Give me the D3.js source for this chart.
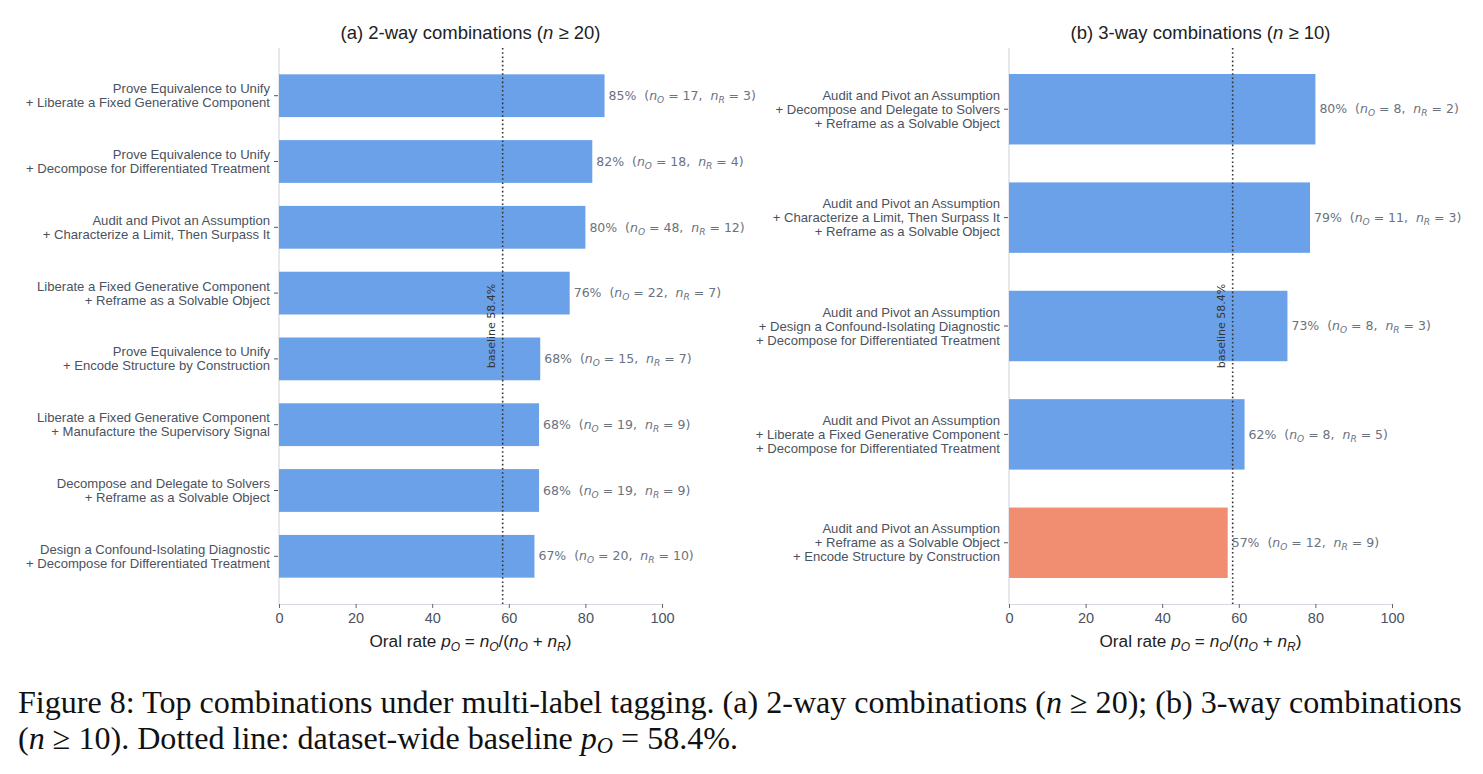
<!DOCTYPE html>
<html><head><meta charset="utf-8">
<script src="https://cdn.jsdelivr.net/npm/d3@7"></script>
<style>
body{margin:0;background:#fff;}
svg{display:block;}
text{white-space:pre;}
</style></head>
<body>
<svg id="chart" width="1483" height="774"></svg>
<script>
// ---------- DATA ----------
const labelsA = [
  ["Prove Equivalence to Unify", "+ Liberate a Fixed Generative Component"],
  ["Prove Equivalence to Unify", "+ Decompose for Differentiated Treatment"],
  ["Audit and Pivot an Assumption", "+ Characterize a Limit, Then Surpass It"],
  ["Liberate a Fixed Generative Component", "+ Reframe as a Solvable Object"],
  ["Prove Equivalence to Unify", "+ Encode Structure by Construction"],
  ["Liberate a Fixed Generative Component", "+ Manufacture the Supervisory Signal"],
  ["Decompose and Delegate to Solvers", "+ Reframe as a Solvable Object"],
  ["Design a Confound-Isolating Diagnostic", "+ Decompose for Differentiated Treatment"]
];
const rateA = [85.0, 81.8, 80.0, 75.9, 68.2, 67.9, 67.9, 66.7];
const nOA = [17, 18, 48, 22, 15, 19, 19, 20];
const nRA = [3, 4, 12, 7, 7, 9, 9, 10];

const labelsB = [
  ["Audit and Pivot an Assumption", "+ Decompose and Delegate to Solvers", "+ Reframe as a Solvable Object"],
  ["Audit and Pivot an Assumption", "+ Characterize a Limit, Then Surpass It", "+ Reframe as a Solvable Object"],
  ["Audit and Pivot an Assumption", "+ Design a Confound-Isolating Diagnostic", "+ Decompose for Differentiated Treatment"],
  ["Audit and Pivot an Assumption", "+ Liberate a Fixed Generative Component", "+ Decompose for Differentiated Treatment"],
  ["Audit and Pivot an Assumption", "+ Reframe as a Solvable Object", "+ Encode Structure by Construction"]
];
const rateB = [80.0, 78.6, 72.7, 61.5, 57.1];
const nOB = [8, 11, 8, 8, 12];
const nRB = [2, 3, 3, 5, 9];

const baseline = 58.4;
const xTicks = [0, 20, 40, 60, 80, 100];

// ---------- STYLE ----------
const BLUE = "#6aa1e8", CORAL = "#f18d70";
const SANS = "'Liberation Sans', Arial, Helvetica, sans-serif";
const DEJAVU = "'DejaVu Sans', sans-serif";
const LABEL_C = "#4b5260", ANN_C = "#6b7280", SPINE_C = "#d5d9e2";

const svg = d3.select("#chart");

function sub(t, letter, size, dy) {
  t.append("tspan").attr("font-style", "italic").attr("font-size", size).attr("dy", dy).text(letter);
}

function panel(cfg) {
  const {left, right, top, bottom, labels, rates, nO, nR, title, padOuter} = cfg;
  const g = svg.append("g");
  const x = d3.scaleLinear().domain([0, 100]).range([left, right]);
  const y = d3.scaleBand().domain(d3.range(labels.length)).range([top, bottom])
    .paddingInner(0.35).paddingOuter(padOuter);

  // spine
  g.append("line").attr("x1", left).attr("x2", left).attr("y1", top).attr("y2", bottom)
    .attr("stroke", SPINE_C).attr("stroke-width", 1.2);

  // x axis
  const xa = g.append("g").attr("transform", `translate(0,${bottom})`)
    .call(d3.axisBottom(x).tickValues(xTicks).tickSize(4).tickPadding(5).tickFormat(d3.format("d")));
  xa.select(".domain").attr("stroke", SPINE_C).attr("stroke-width", 1.2);
  xa.selectAll(".tick line").attr("stroke", "#666").attr("stroke-width", 1);
  xa.selectAll(".tick text").attr("font-family", SANS).attr("font-size", 14.5).attr("fill", LABEL_C);

  // bars
  g.selectAll("rect.bar").data(rates).enter().append("rect")
    .attr("x", x(0)).attr("y", (d, i) => y(i))
    .attr("width", d => x(d) - x(0)).attr("height", y.bandwidth())
    .attr("fill", d => d < baseline ? CORAL : BLUE);

  // y ticks + labels
  const lh = 14;
  labels.forEach((lines, i) => {
    const cy = y(i) + y.bandwidth() / 2;
    g.append("line").attr("x1", left - 5).attr("x2", left - 1).attr("y1", cy).attr("y2", cy)
      .attr("stroke", "#555").attr("stroke-width", 1);
    const t = g.append("text").attr("text-anchor", "end").attr("font-family", SANS)
      .attr("font-size", 13.1).attr("fill", LABEL_C);
    lines.forEach((ln, k) => {
      t.append("tspan").attr("x", left - 9)
        .attr("y", cy + (k - (lines.length - 1) / 2) * lh + 4.6).text(ln);
    });
  });

  // baseline
  const bx = x(baseline);
  g.append("line").attr("x1", bx).attr("x2", bx).attr("y1", top).attr("y2", bottom)
    .attr("stroke", "#333").attr("stroke-width", 1.6).attr("stroke-dasharray", "1.6,2.6");
  g.append("text").attr("transform", `translate(${bx - 8},${(top + bottom) / 2}) rotate(-90)`)
    .attr("text-anchor", "middle").attr("font-family", DEJAVU).attr("font-size", 11)
    .attr("fill", "#333").text(`baseline ${baseline}%`);

  // annotations
  rates.forEach((r, i) => {
    const cy = y(i) + y.bandwidth() / 2;
    const t = g.append("text").attr("x", x(r) + 4).attr("y", cy + 4.2)
      .attr("font-family", DEJAVU).attr("font-size", 12.5).attr("fill", ANN_C);
    t.append("tspan").text(`${Math.round(r)}%  (`);
    t.append("tspan").attr("font-style", "italic").text("n");
    sub(t, "O", 9, 3);
    t.append("tspan").attr("dy", -3).text(` = ${nO[i]},  `);
    t.append("tspan").attr("font-style", "italic").text("n");
    sub(t, "R", 9, 3);
    t.append("tspan").attr("dy", -3).text(` = ${nR[i]})`);
  });

  // title
  const tt = g.append("text").attr("x", (left + right) / 2).attr("y", 39)
    .attr("text-anchor", "middle").attr("font-family", SANS).attr("font-size", 18.5).attr("fill", "#222");
  tt.append("tspan").text(title[0]);
  tt.append("tspan").attr("font-style", "italic").text("n");
  tt.append("tspan").text(title[1]);

  // x label
  const xl = g.append("text").attr("x", (left + right) / 2).attr("y", 647)
    .attr("text-anchor", "middle").attr("font-family", SANS).attr("font-size", 17.2).attr("fill", "#222");
  xl.append("tspan").text("Oral rate ");
  xl.append("tspan").attr("font-style", "italic").text("p");
  sub(xl, "O", 12, 3.5);
  xl.append("tspan").attr("dy", -3.5).text(" = ");
  xl.append("tspan").attr("font-style", "italic").text("n");
  sub(xl, "O", 12, 3.5);
  xl.append("tspan").attr("dy", -3.5).text("/(");
  xl.append("tspan").attr("font-style", "italic").text("n");
  sub(xl, "O", 12, 3.5);
  xl.append("tspan").attr("dy", -3.5).text(" + ");
  xl.append("tspan").attr("font-style", "italic").text("n");
  sub(xl, "R", 12, 3.5);
  xl.append("tspan").attr("dy", -3.5).text(")");
}

panel({left: 279, right: 662, top: 48, bottom: 604, labels: labelsA, rates: rateA, nO: nOA, nR: nRA,
  title: ["(a) 2-way combinations (", " \u2265 20)"], padOuter: 0.4});
panel({left: 1009, right: 1392, top: 48, bottom: 604, labels: labelsB, rates: rateB, nO: nOB, nR: nRB,
  title: ["(b) 3-way combinations (", " \u2265 10)"], padOuter: 0.24});

// caption
const SERIF = "'Liberation Serif', 'DejaVu Serif', serif";
const c1 = svg.append("text").attr("x", 18).attr("y", 713).attr("font-family", SERIF)
  .attr("font-size", 25).attr("fill", "#111");
c1.append("tspan").text("Figure 8: Top combinations under multi-label tagging. (a) 2-way combinations (");
c1.append("tspan").attr("font-style", "italic").text("n");
c1.append("tspan").text(" \u2265 20); (b) 3-way combinations");
const natural = c1.node().getComputedTextLength();
const capFs = 25 * 1444 / natural;
c1.attr("font-size", capFs);

const c2 = svg.append("text").attr("x", 18).attr("y", 749).attr("font-family", SERIF)
  .attr("font-size", capFs).attr("fill", "#111");
c2.append("tspan").text("(");
c2.append("tspan").attr("font-style", "italic").text("n");
c2.append("tspan").text(" \u2265 10). Dotted line: dataset-wide baseline ");
c2.append("tspan").attr("font-style", "italic").text("p");
c2.append("tspan").attr("font-style", "italic").attr("font-size", capFs * 0.7).attr("dy", 4).text("O");
c2.append("tspan").attr("dy", -4).text(" = 58.4%.");
</script>
</body></html>
